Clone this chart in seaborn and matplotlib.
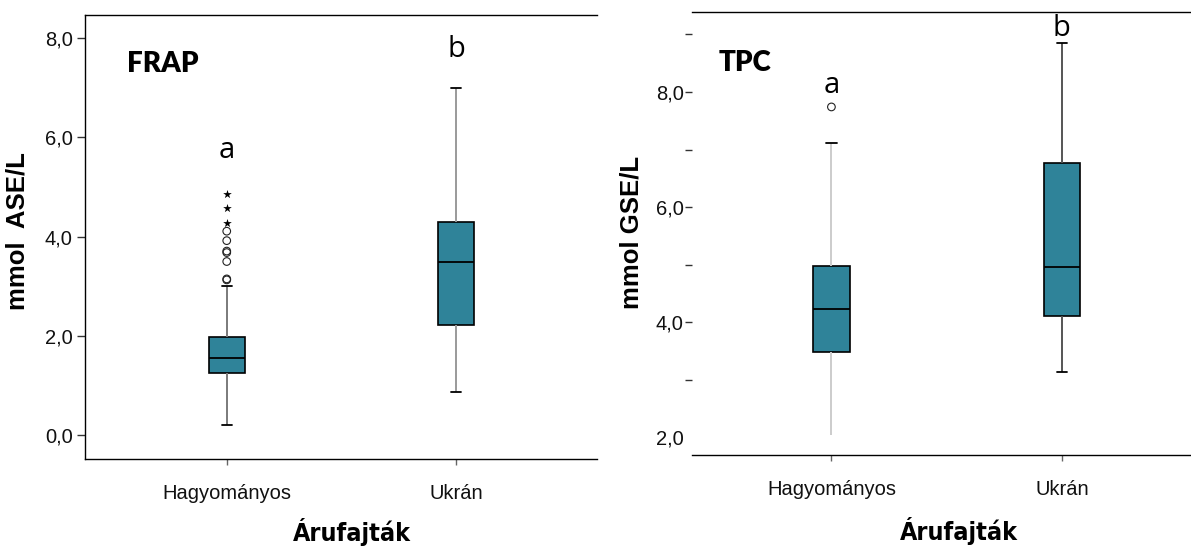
import numpy as np
import pandas as pd
import matplotlib
matplotlib.use("Agg")
import matplotlib.pyplot as plt
import seaborn as sns
from matplotlib.ticker import FuncFormatter, FixedLocator

# ---------------- data ----------------
categories = ["Hagyományos", "Ukrán"]

# five-number summaries: [lower whisker, Q1, median, Q3, upper whisker]
frap_hagyomanyos = [0.21, 1.25, 1.55, 1.98, 3.01]
frap_ukran = [0.87, 2.22, 3.49, 4.29, 7.00]
frap_hagy_outliers = [3.13, 3.15, 3.50, 3.68, 3.71, 3.92, 4.11]
frap_hagy_extremes = [4.28, 4.57, 4.85]

tpc_hagyomanyos = [2.03, 3.48, 4.22, 4.98, 7.11]
tpc_ukran = [3.13, 4.10, 4.95, 6.77, 8.85]
tpc_hagy_outliers = [7.74]

frap_yticks = [0, 2, 4, 6, 8]
tpc_yticks = [2, 4, 6, 8]
tpc_yminor = [3, 5, 7, 9]

frap_letters = ["a", "b"]
tpc_letters = ["a", "b"]

# ---------------- style ----------------
sns.set_style("white")
plt.rcParams["font.family"] = ["Liberation Sans", "DejaVu Sans"]
plt.rcParams["text.color"] = "black"
plt.rcParams["axes.labelcolor"] = "black"

BOX = "#2F8399"
TICKFONT = 14.5

fig = plt.figure(figsize=(11.91, 5.51), dpi=100)
ax1 = fig.add_axes([0.0714, 0.167, 0.4299, 0.8058])
ax2 = fig.add_axes([0.581, 0.1742, 0.419, 0.8040])


def draw_box(ax, cat, values, whisker_color, hide_lower_cap=False):
    df = pd.DataFrame({"cat": [cat] * len(values), "val": values})
    sns.boxplot(data=df, x="cat", y="val", order=categories, ax=ax,
                whis=(0, 100), width=0.157, color=BOX, saturation=1,
                linecolor="black", linewidth=1.2, showfliers=False,
                capwidths=0.045,
                whiskerprops={"color": whisker_color, "linewidth": 1.4},
                capprops={"color": "black", "linewidth": 1.3},
                medianprops={"color": "black", "linewidth": 1.3})
    if hide_lower_cap:
        ax.containers[-1].caps[0].set_visible(False)


def draw_points(ax, cat, values, marker, size, hollow):
    kws = dict(x=[cat] * len(values), y=values, order=categories, ax=ax,
               jitter=False, marker=marker, size=size, color="black")
    if hollow:
        kws.update(facecolors="none", edgecolor="#222222", linewidth=0.8)
    else:
        kws.update(linewidth=0)
    sns.stripplot(**kws)


def comma_fmt(v, p):
    return f"{v:.1f}".replace(".", ",")


# ---------------- left panel: FRAP ----------------
draw_box(ax1, categories[0], frap_hagyomanyos, "#7a7a7a")
draw_box(ax1, categories[1], frap_ukran, "#9a9a9a")
draw_points(ax1, categories[0], frap_hagy_outliers, "o", 5.5, True)
draw_points(ax1, categories[0], frap_hagy_extremes, "*", 6.5, False)

ax1.set_xlim(-0.618, 1.615)
ax1.set_ylim(-0.473, 8.46)
ax1.set_yticks(frap_yticks)
ax1.yaxis.set_major_formatter(FuncFormatter(comma_fmt))
ax1.text(0.082, 0.89, "FRAP", transform=ax1.transAxes, ha="left", va="center",
         fontsize=20, fontweight="heavy", family=["Lato", "DejaVu Sans"])
for i, (lbl, yv) in enumerate(zip(frap_letters, [5.74, 7.76])):
    ax1.text(i, yv, lbl, ha="center", va="center", fontsize=21,
             family=["Open Sans", "DejaVu Sans"])
ax1.set_ylabel("mmol  ASE/L", fontsize=18.5, fontweight="bold")
ax1.yaxis.set_label_coords(-0.109, 0.513)
ax1.spines["right"].set_visible(False)
for s in ["left", "top", "bottom"]:
    ax1.spines[s].set_color("black")
    ax1.spines[s].set_linewidth(1.0)
ax1.tick_params(axis="y", length=6, width=1, pad=3, color="#333333",
                labelsize=TICKFONT, labelcolor="#111111", left=True)

# ---------------- right panel: TPC ----------------
draw_box(ax2, categories[0], tpc_hagyomanyos, "#cccccc", hide_lower_cap=True)
draw_box(ax2, categories[1], tpc_ukran, "#555555")
draw_points(ax2, categories[0], tpc_hagy_outliers, "o", 5.5, True)

ax2.set_xlim(-0.605, 1.56)
ax2.set_ylim(1.69, 9.39)
ax2.set_yticks(tpc_yticks)
ax2.yaxis.set_minor_locator(FixedLocator(tpc_yminor))
ax2.yaxis.set_major_formatter(FuncFormatter(comma_fmt))
ax2.text(0.054, 0.885, "TPC", transform=ax2.transAxes, ha="left", va="center",
         fontsize=20, fontweight="heavy", family=["Lato", "DejaVu Sans"])
for i, (lbl, yv) in enumerate(zip(tpc_letters, [8.12, 9.10])):
    ax2.text(i, yv, lbl, ha="center", va="center", fontsize=21,
             family=["Open Sans", "DejaVu Sans"])
ax2.set_ylabel("mmol GSE/L", fontsize=18.5, fontweight="bold")
ax2.yaxis.set_label_coords(-0.098, 0.503)
ax2.spines["right"].set_visible(False)
ax2.spines["left"].set_visible(False)
for s in ["top", "bottom"]:
    ax2.spines[s].set_color("black")
    ax2.spines[s].set_linewidth(1.0)
ax2.tick_params(axis="y", which="both", length=5, width=1, pad=1, color="#333333",
                labelsize=TICKFONT, labelcolor="#111111", left=True)
ax2.yaxis.get_major_ticks()[0].tick1line.set_visible(False)

# ---------------- shared x-axis styling ----------------
for ax, xl, yl in [(ax1, 0.522, -0.132), (ax2, 0.535, -0.140)]:
    ax.set_xticks([0, 1])
    ax.set_xticklabels(categories)
    ax.tick_params(axis="x", length=4, width=1, pad=14, color="#666666",
                   labelsize=TICKFONT, labelcolor="#111111", bottom=True)
    ax.set_xlabel("Árufajták", fontsize=18, fontweight="heavy",
                  fontstretch="condensed",
                  family=["Liberation Sans Narrow", "DejaVu Sans"])
    ax.xaxis.set_label_coords(xl, yl)
    ax.grid(False)

fig.savefig("out.png", dpi=100)
